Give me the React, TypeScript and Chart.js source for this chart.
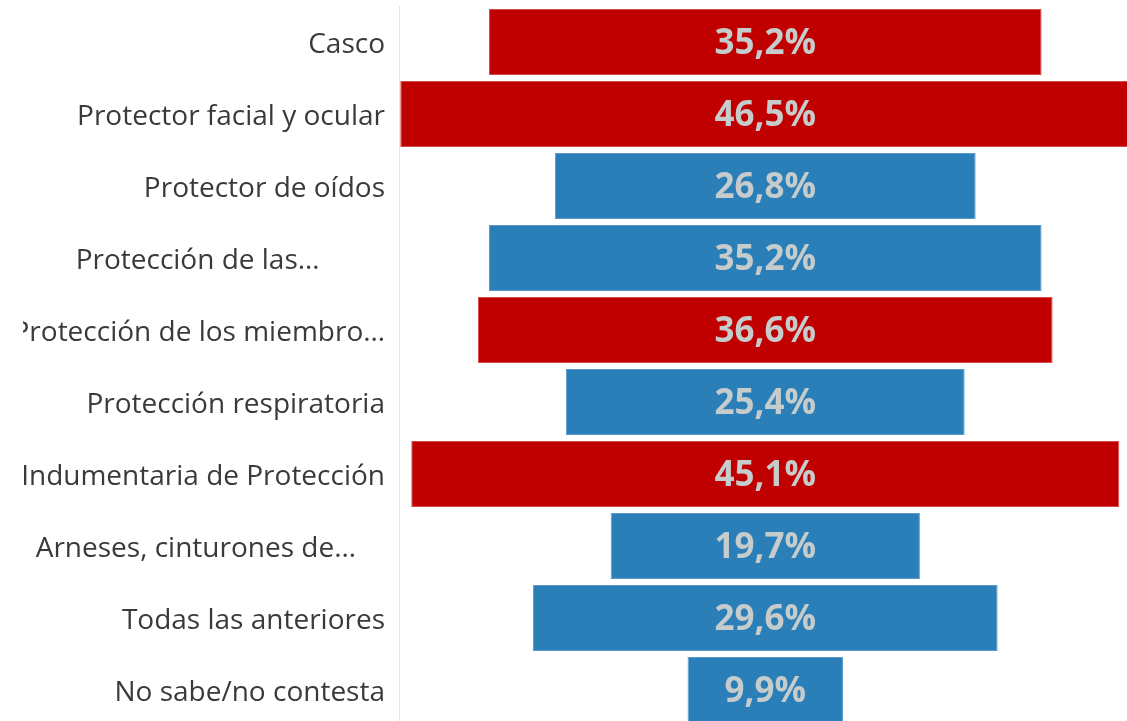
import React, { useEffect, useRef } from "react";
import { Chart, registerables } from "chart.js";

Chart.register(...registerables);

const categories = [
  "Casco",
  "Protector facial y ocular",
  "Protector de oídos",
  "Protección de las…         ",
  "Protección de los miembro…",
  "Protección respiratoria",
  "Indumentaria de Protección",
  "Arneses, cinturones de…    ",
  "Todas las anteriores",
  "No sabe/no contesta",
];

const values = [35.2, 46.5, 26.8, 35.2, 36.6, 25.4, 45.1, 19.7, 29.6, 9.9];

const highlighted = [true, true, false, false, true, false, true, false, false, false];

const RED = "#C00000";
const BLUE = "#2B7FB8";

const valueLabels = {
  id: "valueLabels",
  afterDatasetsDraw(chart: any) {
    const ctx = chart.ctx;
    const meta = chart.getDatasetMeta(0);
    ctx.save();
    ctx.fillStyle = "#C6CBCB";
    ctx.font = "bold 35px 'Open Sans'";
    ctx.textAlign = "center";
    ctx.textBaseline = "middle";
    meta.data.forEach((el: any, i: number) => {
      const p = el.getCenterPoint();
      const txt = values[i].toFixed(1).replace(".", ",") + "%";
      ctx.fillText(txt, p.x, p.y + 2);
    });
    ctx.restore();
  },
};

export default function App() {
  const ref = useRef<HTMLCanvasElement>(null);

  useEffect(() => {
    if (!ref.current) return;
    const chart = new Chart(ref.current, {
      type: "bar",
      data: {
        labels: categories,
        datasets: [
          {
            data: values.map((v) => [-v / 2, v / 2]) as any,
            backgroundColor: highlighted.map((h) => (h ? RED : BLUE)),
            borderColor: highlighted.map((h) => (h ? "#D84B4B" : "#5A9CCB")),
            borderWidth: 1,
            borderSkipped: false,
            barPercentage: 0.92,
            categoryPercentage: 1,
          },
        ],
      },
      options: {
        indexAxis: "y",
        responsive: false,
        animation: false,
        layout: { padding: { top: 6, bottom: 1, left: 0, right: 0 } },
        plugins: {
          legend: { display: false },
          tooltip: { enabled: false },
          title: { display: false },
        },
        scales: {
          x: {
            display: false,
            min: -23.33,
            max: 23.04,
          },
          y: {
            afterFit: (scale: any) => {
              scale.width = 376;
              scale.paddingTop = 0;
              scale.paddingBottom = 0;
            },
            grid: { display: false, drawTicks: false },
            border: { display: true, color: "#E6E6E6", width: 1 },
            ticks: {
              autoSkip: false,
              padding: 14,
              labelOffset: 3,
              color: "#3A3A3A",
              font: { family: "'Open Sans'", size: 28 },
            },
          },
        },
      },
      plugins: [valueLabels],
    });
    return () => chart.destroy();
  }, []);

  return (
    <div
      style={{
        position: "fixed",
        left: 23,
        top: 0,
        width: 1104,
        height: 727,
        background: "#fff",
      }}
    >
      <canvas ref={ref} width={1104} height={727} />
    </div>
  );
}
